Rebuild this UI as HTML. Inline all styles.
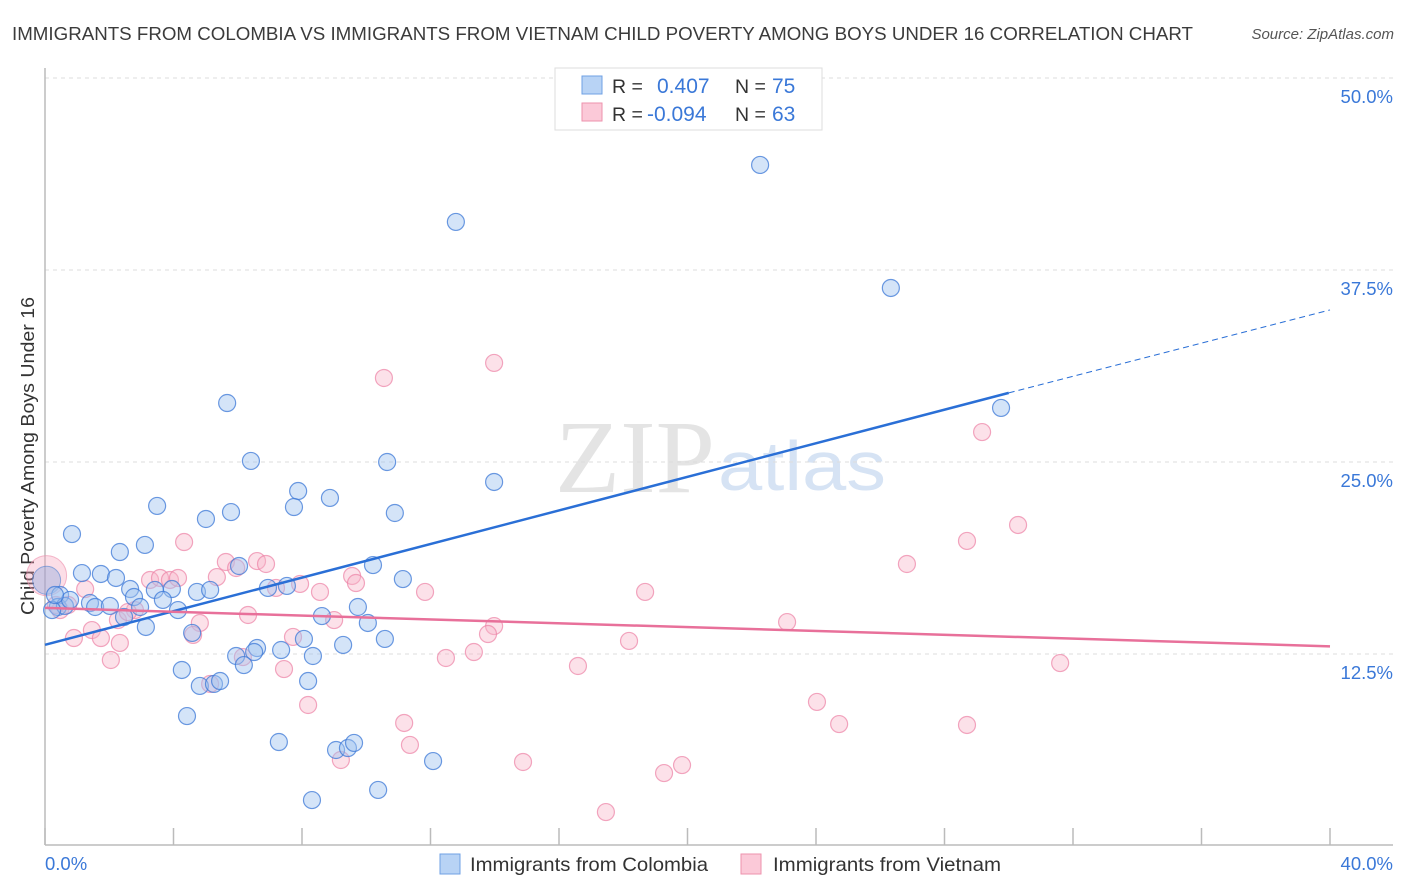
<!DOCTYPE html>
<html><head><meta charset="utf-8"><style>
body{margin:0;background:#fff;font-family:"Liberation Sans",sans-serif}
svg{display:block}
</style></head><body>
<svg width="1406" height="892" id="chart">
<text x="12" y="40" font-size="18.5" fill="#3b3b3b" textLength="1181" lengthAdjust="spacingAndGlyphs">IMMIGRANTS FROM COLOMBIA VS IMMIGRANTS FROM VIETNAM CHILD POVERTY AMONG BOYS UNDER 16 CORRELATION CHART</text>
<text x="1394" y="39" font-size="15" fill="#555" font-style="italic" text-anchor="end">Source: ZipAtlas.com</text>
<text x="555" y="492" font-size="104" fill="#e4e4e4" textLength="160" lengthAdjust="spacingAndGlyphs" font-family="Liberation Serif,serif">ZIP</text>
<text x="718" y="490" font-size="70" fill="#d6e3f4" textLength="168" lengthAdjust="spacingAndGlyphs">atlas</text>
<g id="grid"></g>
<line x1="45" y1="68" x2="45" y2="845" stroke="#bbb" stroke-width="1.5"/>
<line x1="45" y1="845" x2="1393" y2="845" stroke="#bbb" stroke-width="1.5"/>
<text transform="translate(34,456) rotate(-90)" font-size="18.5" fill="#333" text-anchor="middle" textLength="318" lengthAdjust="spacingAndGlyphs">Child Poverty Among Boys Under 16</text>
<text x="45" y="870" font-size="18.5" fill="#3a78d8">0.0%</text>
<text x="1393" y="870" font-size="18.5" fill="#3a78d8" text-anchor="end">40.0%</text>
<g id="marks"></g>
<g>
<rect x="555" y="68" width="267" height="62" fill="#fff" stroke="#ddd"/>
<rect x="582" y="76" width="20" height="18" fill="#b8d3f5" stroke="#6fa0e4"/>
<rect x="582" y="103" width="20" height="18" fill="#fbc9d8" stroke="#ee92ad"/>
<text x="612" y="93" font-size="19.5" fill="#333">R =</text>
<text x="657" y="93" font-size="21" fill="#3a78d8">0.407</text>
<text x="735" y="93" font-size="19.5" fill="#333">N =</text>
<text x="772" y="93" font-size="21" fill="#3a78d8">75</text>
<text x="612" y="121" font-size="19.5" fill="#333">R =</text>
<text x="647" y="121" font-size="21" fill="#3a78d8">-0.094</text>
<text x="735" y="121" font-size="19.5" fill="#333">N =</text>
<text x="772" y="121" font-size="21" fill="#3a78d8">63</text>
</g>
<g>
<rect x="440" y="854" width="20" height="20" fill="#b8d3f5" stroke="#6fa0e4"/>
<text x="470" y="871" font-size="19.5" fill="#333" textLength="238" lengthAdjust="spacingAndGlyphs">Immigrants from Colombia</text>
</g>
<g>
<rect x="741" y="854" width="20" height="20" fill="#fbc9d8" stroke="#ee92ad"/>
<text x="773" y="871" font-size="19.5" fill="#333" textLength="228" lengthAdjust="spacingAndGlyphs">Immigrants from Vietnam</text>
</g>
</svg>
<script>
const yTicks=[12.5,25,37.5,50];
const yTickLabels=["12.5%","25.0%","37.5%","50.0%"];
const xTicks=[0,4,8,12,16,20,24,28,32,36,40];
const colombiaPx=[[760,165],[456,222],[891,288],[1001,408],[227,403],[251,461],[387,462],[494,482],[157,506],[298,491],[330,498],[294,507],[231,512],[395,513],[206,519],[72,534],[120,552],[145,545],[82,573],[101,574],[116,578],[403,579],[239,566],[373,565],[130,589],[155,590],[172,589],[197,592],[210,590],[268,588],[287,586],[60,595],[58,607],[90,603],[95,607],[110,606],[134,597],[140,607],[163,600],[178,610],[322,616],[358,607],[368,623],[124,617],[146,627],[192,633],[304,639],[385,639],[343,645],[257,648],[236,656],[254,652],[281,650],[313,656],[244,665],[182,670],[200,686],[214,684],[220,681],[308,681],[187,716],[279,742],[336,750],[348,748],[354,743],[433,761],[378,790],[312,800],[65,606],[70,600],[52,610],[55,595]];
const vietnamPx=[[494,363],[384,378],[982,432],[1018,525],[967,541],[907,564],[184,542],[226,562],[257,561],[266,564],[236,568],[150,580],[160,578],[170,580],[178,578],[217,577],[352,576],[356,583],[300,584],[320,592],[276,588],[425,592],[645,592],[85,589],[60,610],[68,605],[118,620],[135,610],[128,612],[200,623],[248,615],[334,620],[494,626],[488,634],[787,622],[92,630],[74,638],[101,638],[120,643],[193,635],[293,637],[629,641],[446,658],[474,652],[111,660],[243,657],[284,669],[578,666],[1060,663],[210,684],[308,705],[404,723],[817,702],[839,724],[967,725],[410,745],[341,760],[523,762],[682,765],[664,773],[606,812],[56,605]];
const colombiaX=colombiaPx.map(p=>+((p[0]-45)/1285*40).toFixed(2));
const colombiaY=colombiaPx.map(p=>+((846-p[1])/192*12.5).toFixed(2));
const vietnamX=vietnamPx.map(p=>+((p[0]-45)/1285*40).toFixed(2));
const vietnamY=vietnamPx.map(p=>+((846-p[1])/192*12.5).toFixed(2));
const colombiaTrend=[[0,13.1],[30,29.5],[40,34.9]];
const vietnamTrend=[[0,15.5],[40,13.0]];
const NS="http://www.w3.org/2000/svg";
const X=v=>45+v/40*1285, Y=v=>846-v/12.5*192;
function mk(t,a,p){const e=document.createElementNS(NS,t);for(const k in a)e.setAttribute(k,a[k]);p.appendChild(e);return e;}
const grid=document.getElementById('grid'),marks=document.getElementById('marks');
yTicks.forEach((v,i)=>{
 const l=mk('line',{x1:45,x2:1393,y1:Y(v),y2:Y(v),stroke:'#ddd','stroke-dasharray':'4,4'},grid);
 
 
 const t=mk('text',{x:1393,y:Y(v)+25,'font-size':18.5,fill:'#3a78d8','text-anchor':'end'},grid);
 t.textContent=yTickLabels[i];
 
 
});
xTicks.forEach(v=>{
 const l=mk('line',{x1:X(v),x2:X(v),y1:828,y2:845,stroke:'#bbb','stroke-width':1.5},grid);
 
 
});
const big=mk('circle',{cx:X(0.05),cy:Y(17.6),r:20,fill:'rgba(246,160,185,0.35)',stroke:'rgba(236,140,170,0.6)'},marks);


const big2=mk('circle',{cx:X(0.05),cy:Y(17.3),r:14,fill:'rgba(120,160,220,0.35)',stroke:'rgba(80,130,210,0.6)'},marks);


vietnamX.forEach((x,i)=>{
 const c=mk('circle',{cx:X(x),cy:Y(vietnamY[i]),r:8.5,fill:'rgba(248,180,200,0.4)',stroke:'rgba(236,130,165,0.7)','stroke-width':1.2},marks);
 
 
});
colombiaX.forEach((x,i)=>{
 const c=mk('circle',{cx:X(x),cy:Y(colombiaY[i]),r:8.5,fill:'rgba(160,195,240,0.45)',stroke:'rgba(60,120,215,0.75)','stroke-width':1.2},marks);
 
 
});
let l=mk('line',{x1:X(colombiaTrend[0][0]),y1:Y(colombiaTrend[0][1]),x2:X(colombiaTrend[1][0]),y2:Y(colombiaTrend[1][1]),stroke:'#2a6fd6','stroke-width':2.5},marks);


l=mk('line',{x1:X(colombiaTrend[1][0]),y1:Y(colombiaTrend[1][1]),x2:X(colombiaTrend[2][0]),y2:Y(colombiaTrend[2][1]),stroke:'#2a6fd6','stroke-width':1,'stroke-dasharray':'6,4'},marks);


l=mk('line',{x1:X(vietnamTrend[0][0]),y1:Y(vietnamTrend[0][1]),x2:X(vietnamTrend[1][0]),y2:Y(vietnamTrend[1][1]),stroke:'#e8709a','stroke-width':2.5},marks);


</script>
</body></html>
